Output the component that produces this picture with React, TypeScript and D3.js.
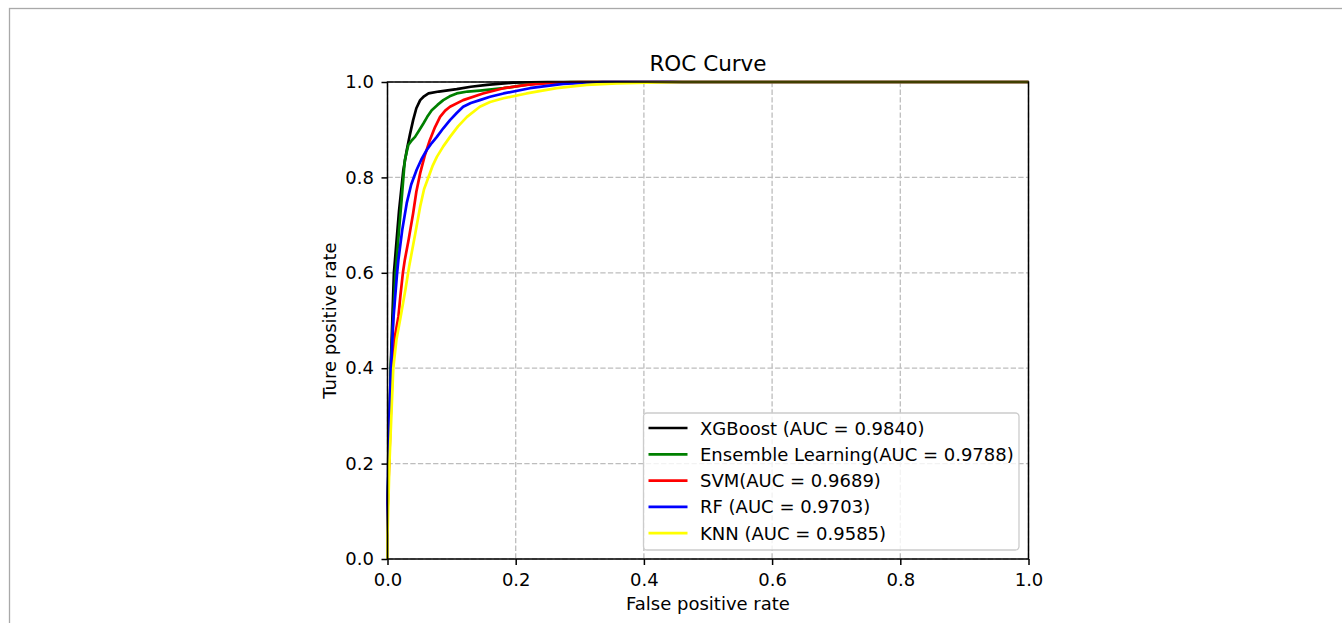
import React, { useRef, useEffect } from "react";
import * as d3 from "d3";

const width = 1342;
const height = 623;

// ROC points (false positive rate / true positive rate)
const xgbFpr = [0, 0.0, 0.002, 0.005, 0.01, 0.0117, 0.018, 0.0247, 0.03, 0.035, 0.04, 0.045, 0.051, 0.057, 0.064, 0.08, 0.108, 0.13, 0.155, 0.196, 0.25, 0.4, 1.0];
const xgbTpr = [0, 0.12, 0.2, 0.4, 0.6, 0.627, 0.73, 0.815, 0.857, 0.89, 0.92, 0.945, 0.962, 0.97, 0.976, 0.98, 0.985, 0.99, 0.994, 0.9986, 1.0, 1.0, 1.0];

const ensFpr = [0, 0.0, 0.002, 0.005, 0.0125, 0.0143, 0.018, 0.022, 0.027, 0.0325, 0.038, 0.043, 0.05, 0.056, 0.062, 0.069, 0.078, 0.087, 0.097, 0.108, 0.125, 0.144, 0.181, 0.21, 0.233, 0.285, 1.0];
const ensTpr = [0, 0.1, 0.2, 0.4, 0.6, 0.627, 0.69, 0.753, 0.836, 0.868, 0.878, 0.885, 0.9, 0.913, 0.927, 0.941, 0.952, 0.962, 0.97, 0.976, 0.98, 0.982, 0.987, 0.993, 0.997, 1.0, 1.0];

const svmFpr = [0, 0.0, 0.0025, 0.005, 0.008, 0.012, 0.017, 0.02, 0.024, 0.027, 0.033, 0.04, 0.045, 0.051, 0.058, 0.066, 0.074, 0.082, 0.09, 0.0975, 0.118, 0.149, 0.181, 0.217, 0.264, 0.3, 1.0];
const svmTpr = [0, 0.1, 0.2, 0.3, 0.4, 0.47, 0.508, 0.55, 0.6, 0.627, 0.67, 0.725, 0.77, 0.809, 0.845, 0.878, 0.905, 0.927, 0.94, 0.948, 0.962, 0.976, 0.987, 0.994, 0.999, 1.0, 1.0];

const rfFpr = [0, 0.0, 0.001, 0.003, 0.0055, 0.009, 0.015, 0.017, 0.023, 0.03, 0.037, 0.0455, 0.053, 0.061, 0.069, 0.077, 0.087, 0.0975, 0.108, 0.118, 0.13, 0.144, 0.16, 0.181, 0.222, 0.274, 0.336, 1.0];
const rfTpr = [0, 0.1, 0.2, 0.3, 0.4, 0.5, 0.6, 0.627, 0.69, 0.746, 0.785, 0.816, 0.838, 0.857, 0.872, 0.885, 0.903, 0.92, 0.935, 0.948, 0.956, 0.962, 0.969, 0.976, 0.987, 0.996, 1.0, 1.0];

const knnFpr = [0, 0.0, 0.001, 0.003, 0.006, 0.009, 0.014, 0.0205, 0.028, 0.034, 0.043, 0.051, 0.057, 0.064, 0.07, 0.077, 0.087, 0.0975, 0.11, 0.124, 0.144, 0.16, 0.181, 0.217, 0.264, 0.311, 0.358, 0.42, 0.46, 1.0];
const knnTpr = [0, 0.05, 0.1, 0.2, 0.3, 0.4, 0.46, 0.508, 0.565, 0.615, 0.68, 0.739, 0.775, 0.801, 0.823, 0.843, 0.865, 0.885, 0.907, 0.927, 0.948, 0.958, 0.966, 0.976, 0.987, 0.994, 0.997, 0.999, 1.0, 1.0];

const seriesNames = [
  "XGBoost (AUC = 0.9840)",
  "Ensemble Learning(AUC = 0.9788)",
  "SVM(AUC = 0.9689)",
  "RF (AUC = 0.9703)",
  "KNN (AUC = 0.9585)",
];
const seriesColors = ["black", "green", "red", "blue", "yellow"];
const seriesFpr = [xgbFpr, ensFpr, svmFpr, rfFpr, knnFpr];
const seriesTpr = [xgbTpr, ensTpr, svmTpr, rfTpr, knnTpr];

const tickValues = [0, 0.2, 0.4, 0.6, 0.8, 1.0];

const font = "DejaVu Sans, sans-serif";

const RocChart = () => {
  const svgRef = useRef<SVGSVGElement>(null);

  useEffect(() => {
    const svg = d3.select(svgRef.current);
    svg.selectAll("*").remove();

    const margin = { top: 82, right: 1342 - 1028.5, bottom: 623 - 559, left: 387.5 };
    const innerWidth = width - margin.left - margin.right;
    const innerHeight = height - margin.top - margin.bottom;

    // page frame line seen along the top and left edge
    svg
      .append("rect")
      .attr("x", 9.5)
      .attr("y", 8.5)
      .attr("width", width + 20)
      .attr("height", height + 20)
      .attr("fill", "none")
      .attr("stroke", "#a9a9a9")
      .attr("stroke-width", 1.3);

    const xScale = d3.scaleLinear().domain([0, 1]).range([0, innerWidth]);
    const yScale = d3.scaleLinear().domain([0, 1]).range([innerHeight, 0]);

    const chart = svg
      .append("g")
      .attr("transform", `translate(${margin.left}, ${margin.top})`);

    // grid
    const grid = chart.append("g");
    grid
      .selectAll("line.gx")
      .data(tickValues)
      .enter()
      .append("line")
      .attr("x1", (d) => xScale(d))
      .attr("x2", (d) => xScale(d))
      .attr("y1", 0)
      .attr("y2", innerHeight)
      .attr("stroke", "#bdbdbd")
      .attr("stroke-width", 1.3)
      .attr("stroke-dasharray", "5.3,2.3");
    grid
      .selectAll("line.gy")
      .data(tickValues)
      .enter()
      .append("line")
      .attr("x1", 0)
      .attr("x2", innerWidth)
      .attr("y1", (d) => yScale(d))
      .attr("y2", (d) => yScale(d))
      .attr("stroke", "#bdbdbd")
      .attr("stroke-width", 1.3)
      .attr("stroke-dasharray", "5.3,2.3");

    // curves
    const line = d3
      .line<[number, number]>()
      .x((d) => xScale(d[0]))
      .y((d) => yScale(d[1]));

    seriesNames.forEach((name, i) => {
      const pts = seriesFpr[i].map((f, j) => [f, seriesTpr[i][j]] as [number, number]);
      chart
        .append("path")
        .datum(pts)
        .attr("d", line)
        .attr("fill", "none")
        .attr("stroke", seriesColors[i])
        .attr("stroke-width", 2.7)
        .attr("stroke-linejoin", "round");
    });

    // spines
    chart
      .append("rect")
      .attr("x", 0)
      .attr("y", 0)
      .attr("width", innerWidth)
      .attr("height", innerHeight)
      .attr("fill", "none")
      .attr("stroke", "black")
      .attr("stroke-width", 1.5);

    // axes
    const xAxis = chart
      .append("g")
      .attr("transform", `translate(0, ${innerHeight})`)
      .call(
        d3
          .axisBottom(xScale)
          .tickValues(tickValues)
          .tickFormat(d3.format(".1f"))
          .tickSizeOuter(0)
          .tickSize(6)
          .tickPadding(8)
      );
    const yAxis = chart.append("g").call(
      d3
        .axisLeft(yScale)
        .tickValues(tickValues)
        .tickFormat(d3.format(".1f"))
        .tickSizeOuter(0)
        .tickSize(6)
        .tickPadding(7.5)
    );
    [xAxis, yAxis].forEach((ax) => {
      ax.select(".domain").remove();
      ax.selectAll(".tick line").attr("stroke", "black").attr("stroke-width", 1.5);
      ax.selectAll(".tick text")
        .attr("fill", "black")
        .style("font-family", font)
        .style("font-size", "18px");
    });

    // legend
    const legend = chart
      .append("g")
      .attr("transform", `translate(${643.5 - margin.left}, ${413 - margin.top})`);
    legend
      .append("rect")
      .attr("width", 375.5)
      .attr("height", 137)
      .attr("rx", 3.5)
      .attr("fill", "white")
      .attr("fill-opacity", 0.8)
      .attr("stroke", "#cccccc")
      .attr("stroke-width", 1.3);
    seriesNames.forEach((name, i) => {
      const cy = 15 + i * 26.3;
      legend
        .append("line")
        .attr("x1", 5)
        .attr("x2", 44)
        .attr("y1", cy)
        .attr("y2", cy)
        .attr("stroke", seriesColors[i])
        .attr("stroke-width", 2.7);
      legend
        .append("text")
        .attr("x", 56.5)
        .attr("y", cy + 6.5)
        .attr("fill", "black")
        .style("font-family", font)
        .style("font-size", "18px")
        .text(name);
    });

    // title and labels
    svg
      .append("text")
      .attr("x", margin.left + innerWidth / 2)
      .attr("y", 71)
      .attr("text-anchor", "middle")
      .style("font-family", font)
      .style("font-size", "21.5px")
      .text("ROC Curve");
    svg
      .append("text")
      .attr("x", margin.left + innerWidth / 2)
      .attr("y", 609.5)
      .attr("text-anchor", "middle")
      .style("font-family", font)
      .style("font-size", "18px")
      .text("False positive rate");
    svg
      .append("text")
      .attr("transform", `translate(336, ${margin.top + innerHeight / 2}) rotate(-90)`)
      .attr("text-anchor", "middle")
      .style("font-family", font)
      .style("font-size", "18px")
      .text("Ture positive rate");
  }, []);

  return (
    <svg
      ref={svgRef}
      width={width}
      height={height}
      style={{ position: "absolute", left: 0, top: 0, background: "white" }}
    ></svg>
  );
};

export default function App() {
  return <RocChart />;
}
